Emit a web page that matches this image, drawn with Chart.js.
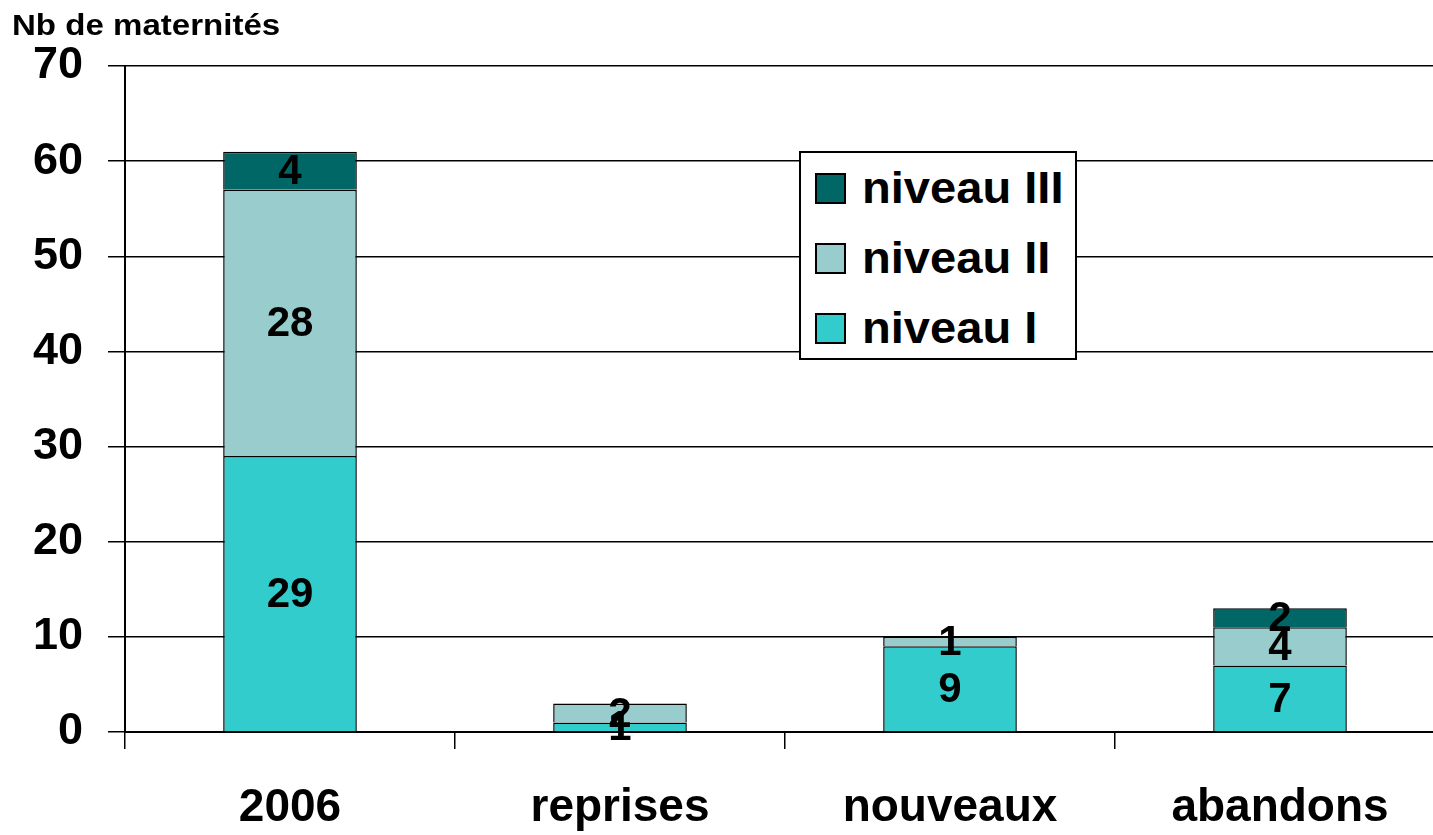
<!DOCTYPE html>
<html>
<head>
<meta charset="utf-8">
<script src="https://cdn.jsdelivr.net/npm/chart.js@4/dist/chart.umd.min.js"></script>
<style>
  html,body{margin:0;padding:0;background:#fff;overflow:hidden;width:1433px;height:835px}
  #wrap{position:relative;width:1460px;height:835px}
  #chart{position:absolute;left:0;top:0}
  .ytitle{position:absolute;left:12px;top:11px;font:bold 29px "Liberation Sans",Arial,sans-serif;line-height:29px;color:#000;white-space:nowrap;transform:scaleX(1.14);transform-origin:left top}
  .legend{position:absolute;left:799px;top:151px;width:278px;height:209px;box-sizing:border-box;border:2px solid #000;background:#fff}
  .legend .item{position:absolute;left:0;height:40px;display:flex;align-items:center;font:bold 44px "Liberation Sans",Arial,sans-serif;color:#000;white-space:nowrap}
  .legend .sw{width:31px;height:31px;box-sizing:border-box;border:2px solid #000;margin-left:14px;margin-right:16px}
  .legend .txt{display:inline-block;transform:scaleX(1.07);transform-origin:left center}
</style>
</head>
<body>
<div id="wrap">
  <canvas id="chart" width="1460" height="835"></canvas>
  <div class="ytitle">Nb de maternités</div>
  <div class="legend" id="legend"></div>
</div>
<script>
'use strict';

// data
const categories = ['2006','reprises','nouveaux','abandons'];
const niveauI   = [29, 1, 9, 7];
const niveauII  = [28, 2, 1, 4];
const niveauIII = [4, null, null, 2];
const yTicks    = [0,10,20,30,40,50,60,70];

const FONT = '"Liberation Sans", Arial, sans-serif';
const colors = {I:'#33CCCC', II:'#99CCCC', III:'#006666'};

// segment values printed in the middle of each block
const segLabels = {
  id:'segLabels',
  afterDatasetsDraw(chart){
    const ctx = chart.ctx;
    ctx.save();
    ctx.font = 'bold 42px '+FONT;
    ctx.fillStyle = '#000';
    ctx.textAlign = 'center';
    ctx.textBaseline = 'middle';
    chart.data.datasets.forEach((ds,i)=>{
      const meta = chart.getDatasetMeta(i);
      meta.data.forEach((bar,j)=>{
        const v = ds.data[j];
        if (v==null || v<=0) return;
        ctx.fillText(String(v), bar.x, (bar.y+bar.base)/2 + 2);
      });
    });
    ctx.restore();
  }
};

const chart = new Chart(document.getElementById('chart'),{
  type:'bar',
  data:{
    labels:categories,
    datasets:[
      {label:'niveau I',  data:niveauI,  backgroundColor:colors.I,  borderColor:'#000', borderWidth:1.5},
      {label:'niveau II', data:niveauII, backgroundColor:colors.II, borderColor:'#000', borderWidth:1.5},
      {label:'niveau III',data:niveauIII,backgroundColor:colors.III,borderColor:'#000', borderWidth:1.5},
    ]
  },
  options:{
    responsive:false,
    animation:false,
    layout:{padding:{top:66,right:15,left:0,bottom:0}},
    barPercentage:0.405,
    categoryPercentage:1,
    plugins:{legend:{display:false},tooltip:{enabled:false}},
    scales:{
      x:{
        stacked:true,
        grid:{offset:true,drawOnChartArea:false,color:'#000',lineWidth:1.5,tickLength:17},
        border:{color:'#000',width:2},
        ticks:{color:'#000',font:{family:FONT,size:46,weight:'bold'},padding:32,maxRotation:0},
        afterFit(s){ s.height = 103; }
      },
      y:{
        stacked:true,
        min:0,max:70,
        afterBuildTicks(s){ s.ticks = yTicks.map(v=>({value:v})); },
        grid:{color:'#000',lineWidth:1.5,tickLength:17},
        border:{color:'#000',width:2},
        ticks:{color:'#000',font:{family:FONT,size:45,weight:'bold'},padding:25},
        afterFit(s){ s.width = 125; }
      }
    }
  },
  plugins:[segLabels]
});

// legend box, top to bottom III, II, I
const legendItems = [['niveau III',colors.III],['niveau II',colors.II],['niveau I',colors.I]];
const lg = document.getElementById('legend');
legendItems.forEach(([name,col],i)=>{
  const it = document.createElement('div');
  it.className = 'item';
  it.style.top = (15 + i*70)+'px';
  it.innerHTML = `<span class="sw" style="background:${col}"></span><span class="txt">${name}</span>`;
  lg.appendChild(it);
});
</script>
</body>
</html>
